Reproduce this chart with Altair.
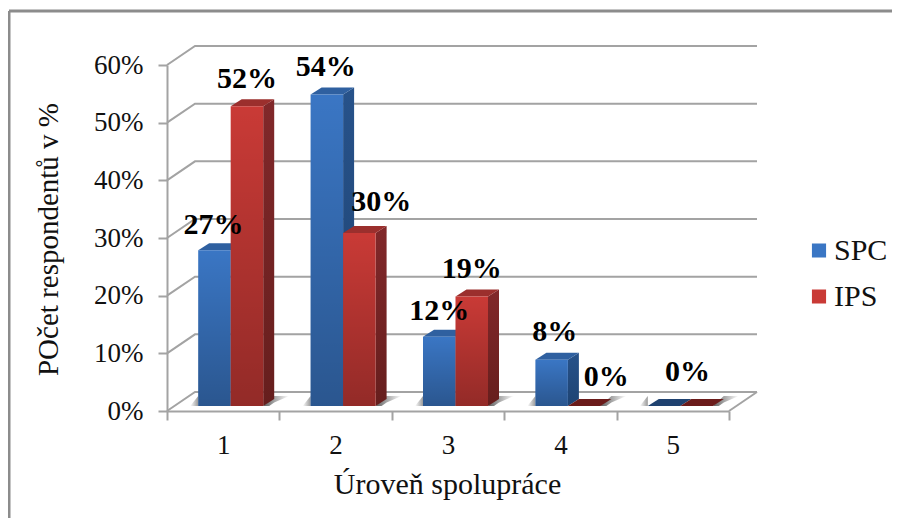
import altair as alt
import pandas as pd

categories = [1, 2, 3, 4, 5]
spc = [27, 54, 12, 8, 0]
ips = [52, 30, 19, 0, 0]
ticks = [0, 10, 20, 30, 40, 50, 60]
x_title = "Úroveň spolupráce"
y_title = "POčet respondentů v %"

# pixel geometry of the pseudo 3D look
W, H = 562, 346
PX_X = W / 5
PX_Y = H / 60
BAR = 32.5 / PX_X
SHIFT = 7.5 / PX_X
DX, DY = 11 / PX_X, 7 / PX_Y
BASE = 5 / PX_Y
WALL_X, WALL_Y = 28 / PX_X, 19 / PX_Y
FONT = "Liberation Serif"
GREY = "#A3A3A3"


def grad(c0, c1, horiz=False):
    return {"gradient": "linear", "x1": 0, "y1": 0, "x2": 1 if horiz else 0, "y2": 0 if horiz else 1,
            "stops": [{"offset": 0, "color": c0}, {"offset": 1, "color": c1}]}


rows = []
for c, a, b in zip(categories, spc, ips):
    mid = c - 0.5 + SHIFT
    rows.append(dict(grp=c, series="SPC", v=a, lo=mid - BAR, hi=mid))
    rows.append(dict(grp=c, series="IPS", v=b, lo=mid, hi=mid + BAR))
bars = pd.DataFrame(rows)
bars["peak"] = bars.v + BASE
bars["base"] = BASE

XS = alt.Scale(domain=[0, 5], nice=False, zero=False)
YS = alt.Scale(domain=[0, 60], nice=False, zero=False)
X = alt.X("x:Q", scale=XS, title=x_title)
Y = alt.Y("y:Q", scale=YS, title=y_title)
Y2 = alt.Y2("y2:Q")

# back wall and floor lines
grid = []
for t in ticks:
    grid += [dict(k=t, x=0, y=t), dict(k=t, x=WALL_X, y=t + WALL_Y), dict(k=t, x=5 + WALL_X, y=t + WALL_Y)]
grid += [dict(k=-1, x=5, y=0), dict(k=-1, x=5 + WALL_X, y=WALL_Y)]
grid_layer = alt.Chart(pd.DataFrame(grid)).mark_line(color=GREY, strokeWidth=2, clip=False).encode(
    x=alt.X("x:Q", scale=XS, title=x_title,
            axis=alt.Axis(values=[0, 0.5, 1, 1.5, 2, 2.5, 3, 3.5, 4, 4.5, 5],
                          labelExpr="datum.value % 1 == 0.5 ? format(datum.value + 0.5, 'd') : ''",
                          labelFlush=False, labelOverlap=False, grid=False,
                          tickOpacity={"condition": {"test": "datum.value % 1 == 0", "value": 1}, "value": 0},
                          tickSize=9, tickWidth=2, tickColor=GREY, domainColor=GREY, domainWidth=2,
                          labelFont=FONT, labelFontSize=27, labelColor="#111111", labelPadding=12,
                          titleFont=FONT, titleFontSize=30, titleFontWeight="normal", titleColor="#111111",
                          titleX=280, titleY=58)),
    y=alt.Y("y:Q", scale=YS, title=y_title,
            axis=alt.Axis(values=ticks, labelExpr="datum.value + '%'", grid=False,
                          tickSize=9, tickWidth=2, tickColor=GREY, domainColor=GREY, domainWidth=2,
                          labelFont=FONT, labelFontSize=27, labelColor="#111111", labelPadding=15,
                          titleFont=FONT, titleFontSize=29, titleFontWeight="normal", titleColor="#111111",
                          titleX=-104, titleY=174)),
    detail="k:N",
)

# floor shadows
left_s, right_s = [], []
for c in categories:
    sub = bars[bars.grp == c]
    lo, hi = sub["lo"].min(), sub["hi"].max()
    y0 = BASE
    left_s += [dict(k=c, x=lo - 8 / PX_X, y=y0, y2=y0), dict(k=c, x=lo, y=y0 + 10 / PX_Y, y2=y0)]
    right_s += [dict(k=c, x=hi, y=y0, y2=y0),
                dict(k=c, x=hi + 6 / PX_X, y=y0 + 5.5 / PX_Y, y2=y0),
                dict(k=c, x=hi + 11 / PX_X, y=y0 + 10 / PX_Y, y2=y0 + 3.5 / PX_Y),
                dict(k=c, x=hi + 26 / PX_X, y=y0 + 10 / PX_Y, y2=y0 + 10 / PX_Y)]
shadow_l = alt.Chart(pd.DataFrame(left_s)).mark_area(
    color=grad("#FFFFFF", "#9A9A9A", True), clip=False).encode(x=X, y=Y, y2=Y2, detail="k:N")
shadow_r = alt.Chart(pd.DataFrame(right_s)).mark_area(
    color=grad("#606060", "#FFFFFF", True), clip=False).encode(x=X, y=Y, y2=Y2, detail="k:N")

STYLE = {
    "SPC": dict(side=("#27528A", "#1E4372"), top="#2F60A0", flat="#1F4270"),
    "IPS": dict(side=("#81282A", "#661E1D"), top="#9B2F2D", flat="#6B1B1A"),
}


def faces(name):
    d = bars[bars.series == name]
    side, top, flat = [], [], []
    for b in d.to_dict("records"):
        k, lo, hi, pk, base = b["grp"], b["lo"], b["hi"], b["peak"], b["base"]
        if b["v"] > 0:
            side += [dict(k=k, x=hi, y=pk, y2=base),
                     dict(k=k, x=hi + DX, y=pk + DY, y2=base + DY)]
        pts = [dict(k=k, x=lo, y=pk, y2=pk),
               dict(k=k, x=lo + DX, y=pk + DY, y2=pk),
               dict(k=k, x=hi, y=pk + DY, y2=pk),
               dict(k=k, x=hi + DX, y=pk + DY, y2=pk + DY)]
        (top if b["v"] > 0 else flat).extend(pts)
    st = STYLE[name]
    out = []
    if side:
        out.append(alt.Chart(pd.DataFrame(side)).mark_area(color=grad(*st["side"]), clip=False)
                   .encode(x=X, y=Y, y2=Y2, detail="k:N"))
    if top:
        out.append(alt.Chart(pd.DataFrame(top)).mark_area(color=st["top"], clip=False)
                   .encode(x=X, y=Y, y2=Y2, detail="k:N"))
    if flat:
        out.append(alt.Chart(pd.DataFrame(flat)).mark_area(color=st["flat"], clip=False)
                   .encode(x=X, y=Y, y2=Y2, detail="k:N"))
    front = d[d.v > 0]
    out.append(alt.Chart(front).mark_rect(clip=False).encode(
        x=alt.X("lo:Q", scale=XS, title=x_title),
        x2="hi:Q",
        y=alt.Y("peak:Q", scale=YS, title=y_title),
        y2="base:Q",
        color=alt.Color("series:N",
                        scale=alt.Scale(domain=["SPC", "IPS"], range=["#3A76C4", "#C93A36"]),
                        legend=alt.Legend(orient="none", legendX=637, legendY=172, title=None,
                                          symbolType="square", symbolSize=200, symbolStrokeWidth=0,
                                          labelFont=FONT, labelFontSize=30, labelColor="#111111",
                                          labelOffset=0, rowPadding=15, labelLimit=120, clipHeight=27)),
    ))
    out.append(alt.Chart(front).mark_rect(clip=False, color=grad("rgba(0,0,0,0)", "rgba(0,0,0,0.27)")).encode(
        x=alt.X("lo:Q", scale=XS, title=x_title),
        x2="hi:Q",
        y=alt.Y("peak:Q", scale=YS, title=y_title),
        y2="base:Q",
    ))
    return out


# (series, category, pixel shift from the bar's top centre)
label_shift = [("SPC", 1, -1, -16), ("IPS", 1, 0, -18),
               ("SPC", 2, -1, -19), ("IPS", 2, 22, -22),
               ("SPC", 3, 0, -17), ("IPS", 3, 0, -18),
               ("SPC", 4, 3, -19), ("IPS", 4, 22, -20),
               ("IPS", 5, -9, -25)]
labels = []
for s, c, dx, dy in label_shift:
    d = bars[(bars.series == s) & (bars.grp == c)].copy()
    d["mid"] = (d["lo"] + d["hi"]) / 2
    d["txt"] = d["v"].astype(str) + "%"
    labels.append(alt.Chart(d).mark_text(font=FONT, fontSize=30, fontWeight="bold", color="#000000",
                                         align="center", baseline="alphabetic", dx=dx, dy=dy, clip=False).encode(
        x=alt.X("mid:Q", scale=XS, title=x_title),
        y=alt.Y("peak:Q", scale=YS, title=y_title),
        text="txt:N"))

marker = pd.DataFrame({"a": [0]})
frame_top = alt.Chart(marker).mark_rule(color="#8C8C8C", strokeWidth=3, clip=False).encode(
    x=alt.value(-158), x2=alt.value(740), y=alt.value(-54))
frame_left = alt.Chart(marker).mark_rule(color="#8C8C8C", strokeWidth=3, clip=False).encode(
    x=alt.value(-158), y=alt.value(-54), y2=alt.value(470))

chart = alt.layer(
    frame_top, frame_left, grid_layer, shadow_l, shadow_r,
    *faces("SPC"), *faces("IPS"), *labels,
).properties(
    width=W, height=H,
    padding={"left": 159, "top": 57, "right": 163, "bottom": 107},
    autosize=alt.AutoSizeParams(type="none"),
    background="white",
).configure_view(stroke=None)

chart.save("out.html", embed_options={"renderer": "svg", "actions": False})
